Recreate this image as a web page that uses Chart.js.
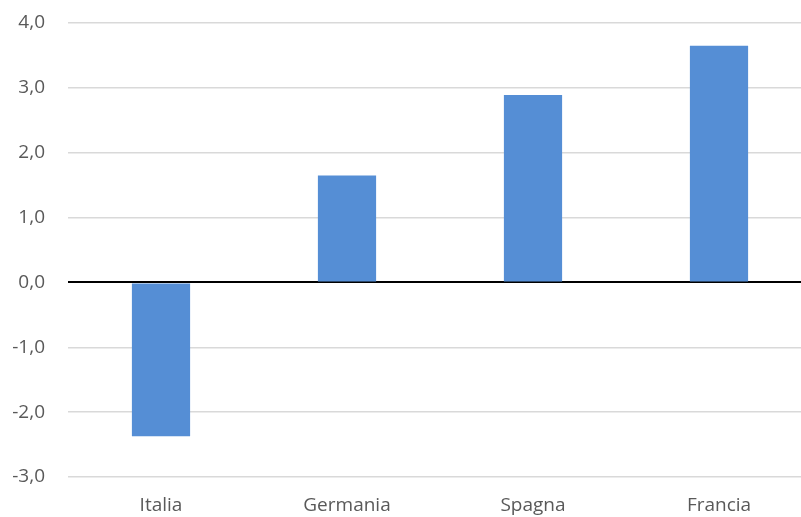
<!DOCTYPE html>
<html>
<head>
<meta charset="utf-8">
<script src="https://cdn.jsdelivr.net/npm/chart.js@4.4.0/dist/chart.umd.min.js"></script>
<style>
  html, body { margin: 0; padding: 0; background: #fff; overflow: hidden; }
  #wrap { position: relative; width: 812px; height: 517px; }
</style>
</head>
<body>
<div id="wrap"><canvas id="chart"></canvas></div>
<script>
const countries = ["Italia", "Germania", "Spagna", "Francia"];
const values = [-2.37, 1.65, 2.89, 3.65];
const yTicks = [-3, -2, -1, 0, 1, 2, 3, 4];

const FONT = "'Open Sans', sans-serif";
const TEXT_COLOR = "#595959";

new Chart(document.getElementById("chart"), {
  type: "bar",
  data: {
    labels: countries,
    datasets: [{
      data: values,
      backgroundColor: "#558ed5",
      borderWidth: 0,
      categoryPercentage: 1,
      barPercentage: 0.313,
    }],
  },
  options: {
    responsive: true,
    maintainAspectRatio: false,
    animation: false,
    layout: { padding: { top: 23, bottom: 2, left: 0, right: 0 } },
    plugins: { legend: { display: false }, tooltip: { enabled: false } },
    scales: {
      x: {
        afterFit(scale) { scale.height = 38; },
        grid: { display: false, drawTicks: false },
        border: { display: false },
        ticks: { color: TEXT_COLOR, padding: 17, font: { family: FONT, size: 19 } },
      },
      y: {
        min: -3,
        max: 4,
        afterFit(scale) {
          scale.width = 68;
          scale.paddingTop = 0;
          scale.paddingBottom = 0;
        },
        afterBuildTicks(scale) { scale.ticks = yTicks.map((v) => ({ value: v })); },
        border: { display: false },
        grid: {
          drawTicks: false,
          lineWidth: (ctx) => (ctx.tick && ctx.tick.value === 0 ? 2 : 1.5),
          color: (ctx) => (ctx.tick && ctx.tick.value === 0 ? "#000000" : "#d9d9d9"),
        },
        ticks: {
          color: TEXT_COLOR,
          padding: 23,
          font: { family: FONT, size: 19 },
          callback(value) { return value.toFixed(1).replace(".", ","); },
        },
      },
    },
  },
});
</script>
</body>
</html>
